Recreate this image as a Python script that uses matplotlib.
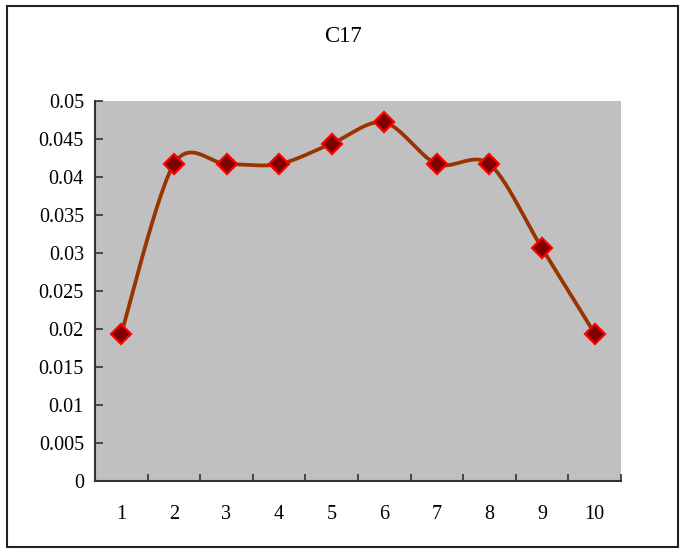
import numpy as np
import matplotlib
matplotlib.use("Agg")
import matplotlib.pyplot as plt
from matplotlib.patches import Rectangle

categories = [1, 2, 3, 4, 5, 6, 7, 8, 9, 10]
values = [0.0194, 0.0417, 0.0417, 0.0417, 0.0444, 0.0472, 0.0417, 0.0417, 0.0306, 0.0194]
yticks = [0, 0.005, 0.01, 0.015, 0.02, 0.025, 0.03, 0.035, 0.04, 0.045, 0.05]
ytick_labels = ["0", "0.005", "0.01", "0.015", "0.02", "0.025", "0.03", "0.035", "0.04", "0.045", "0.05"]
title = "C17"

plt.rcParams['font.family'] = ['Liberation Serif', 'DejaVu Serif']

def smooth(xs, ys, n=30, k=1/6.5):
    xs = np.asarray(xs, float); ys = np.asarray(ys, float)
    px = np.concatenate([[xs[0]], xs, [xs[-1]]])
    py = np.concatenate([[ys[0]], ys, [ys[-1]]])
    ox, oy = [], []
    t = np.linspace(0, 1, n)
    for i in range(1, len(px) - 2):
        p0x, p1x, p2x, p3x = px[i-1], px[i], px[i+1], px[i+2]
        p0y, p1y, p2y, p3y = py[i-1], py[i], py[i+1], py[i+2]
        b1x = p1x + (p2x - p0x) * k; b1y = p1y + (p2y - p0y) * k
        b2x = p2x - (p3x - p1x) * k; b2y = p2y - (p3y - p1y) * k
        bx = (1-t)**3*p1x + 3*(1-t)**2*t*b1x + 3*(1-t)*t**2*b2x + t**3*p2x
        by = (1-t)**3*p1y + 3*(1-t)**2*t*b1y + 3*(1-t)*t**2*b2y + t**3*p2y
        ox.extend(bx); oy.extend(by)
    return np.array(ox), np.array(oy)

fig = plt.figure(figsize=(6.89, 5.5), dpi=100)
fig.patches.append(Rectangle((7/689, 3/550), 671/689, 541/550, transform=fig.transFigure,
                             fill=False, edgecolor='#222222', linewidth=1.5))
ax = fig.add_axes([95/689, 1-481/550, 526/689, 380/550])
ax.set_facecolor('#C0C0C0')

sx, sy = smooth(categories, values)
ax.plot(sx, sy, color='#993300', linewidth=2.7, solid_capstyle='round', zorder=2)
ax.plot(categories, values, linestyle='none', marker='D', markersize=10,
        markerfacecolor='#800000', markeredgecolor='#FF0000', markeredgewidth=1.6, zorder=3)

ax.set_xlim(0.5, 10.5)
ax.set_ylim(0, 0.05)
ax.set_yticks(yticks)
ax.set_yticklabels(ytick_labels)
ax.set_xticks(np.arange(0.5, 11, 1))
ax.set_xticklabels([])
ax.set_xticks(categories, minor=True)
ax.set_xticklabels([str(c) for c in categories], minor=True)
ax.tick_params(axis='x', which='major', direction='in', length=5, width=1.2, color='#333333')
ax.tick_params(axis='x', which='minor', length=0, pad=17, labelsize=14.5)
ax.tick_params(axis='y', direction='in', length=6, width=1.2, color='#333333', labelsize=14.5, pad=8)
for s in ['top', 'right']:
    ax.spines[s].set_visible(False)
for s in ['left', 'bottom']:
    ax.spines[s].set_color('#333333')
    ax.spines[s].set_linewidth(1.5)

fig.text(343/689, 1-37/550, title, ha='center', va='center', fontsize=16.5)

fig.savefig("out.png", dpi=100)
